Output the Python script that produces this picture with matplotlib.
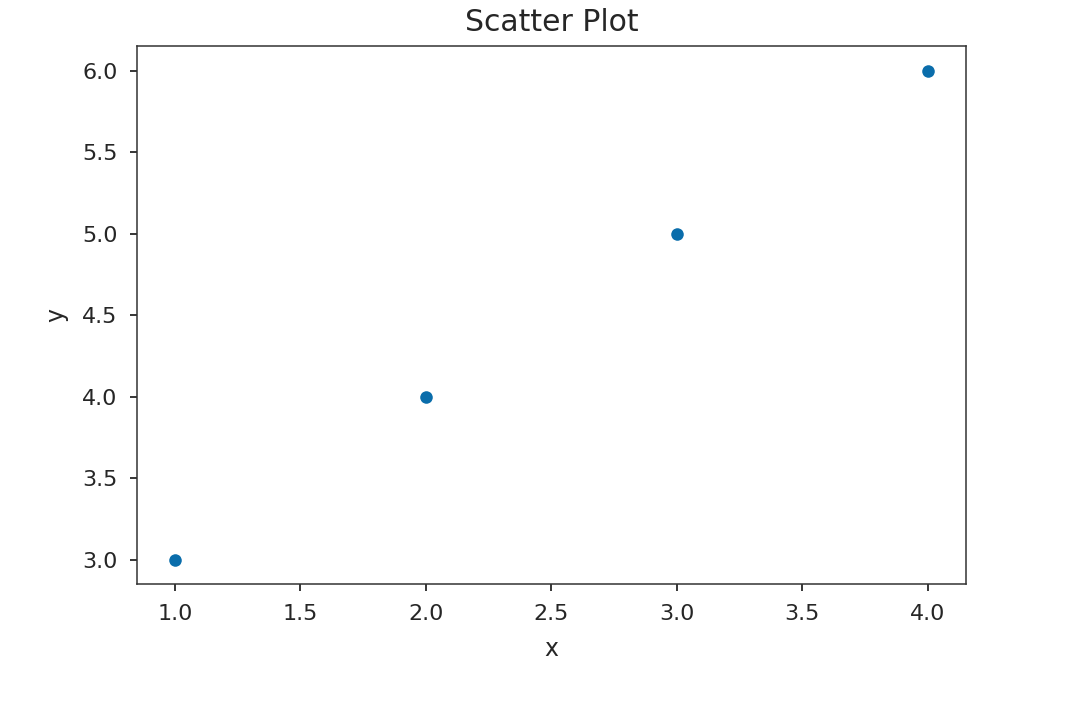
import matplotlib
matplotlib.use("Agg")
import matplotlib.pyplot as plt

x = [1, 2, 3, 4]
y = [3, 4, 5, 6]

fig = plt.figure(figsize=(10.8, 7.02), dpi=100)
ax = fig.add_axes([0.127, 0.168, 0.767, 0.766])

ax.scatter(x, y, s=105, color="#0a6dab", edgecolor="white", linewidth=1.2, zorder=3)

ax.set_title("Scatter Plot", fontsize=21.5, color="#262626", pad=11)
ax.set_xlabel("x", fontsize=17, color="#262626", labelpad=10)
ax.set_ylabel("y", fontsize=17, color="#262626", labelpad=10)
ax.tick_params(labelsize=16, labelcolor="#262626", length=5, width=1.1, pad=9)
for s in ax.spines.values():
    s.set_linewidth(1.1)
    s.set_color("#333333")

fig.savefig("out.png", dpi=100)
